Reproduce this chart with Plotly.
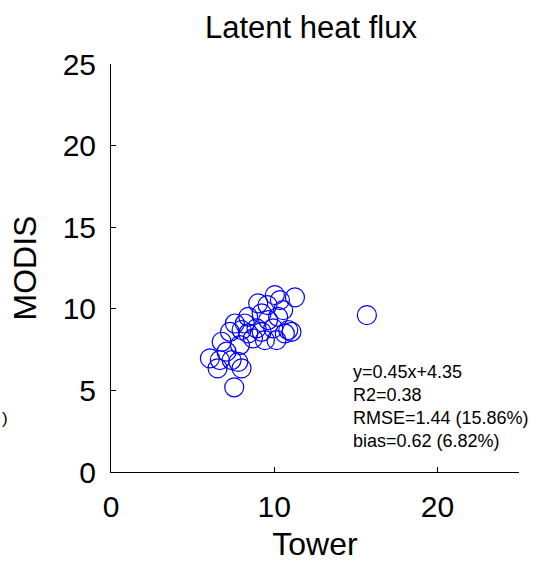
import plotly.graph_objects as go

# ---- data ----
tower = [6.06, 6.67, 6.53, 8.00, 7.29, 6.78, 7.08, 7.90, 8.20, 8.70, 9.43, 10.65,
         10.86, 10.14, 9.63, 9.23, 10.24, 10.55, 9.02, 7.59, 8.41, 8.00, 8.92, 9.23,
         7.39, 7.80, 8.41, 9.94, 11.06, 7.55, 11.27, 10.04, 10.35, 9.59, 15.68]
modis = [6.96, 6.86, 6.35, 6.35, 8.59, 7.98, 7.37, 7.78, 9.10, 8.19, 8.08, 8.49,
         8.70, 8.08, 9.31, 9.72, 9.51, 9.92, 10.33, 9.10, 9.51, 8.70, 8.80, 8.59,
         6.86, 6.75, 8.49, 8.80, 8.59, 5.19, 10.70, 10.84, 10.53, 10.23, 9.61]

x_ticks = [0, 10, 20]
y_ticks = [0, 5, 10, 15, 20, 25]
stats_lines = ["y=0.45x+4.35", "R2=0.38", "RMSE=1.44 (15.86%)", "bias=0.62 (6.82%)"]
stats_y = [6.13, 4.72, 3.31, 1.90]

FONT = "Liberation Sans, Arial, Helvetica, sans-serif"

fig = go.Figure(
    go.Scatter(
        x=tower, y=modis, mode="markers",
        marker=dict(symbol="circle-open", size=19, color="#0000FF",
                    line=dict(width=1.2, color="#0000FF")),
        showlegend=False,
    )
)

axis_common = dict(
    showgrid=False, zeroline=False, showline=True, linecolor="black", linewidth=1,
    mirror=False, ticks="inside", ticklen=5, tickcolor="black", tickwidth=1,
    tickfont=dict(family=FONT, size=30, color="black"), automargin=False,
)

fig.update_xaxes(range=[0, 25], tickvals=x_ticks, ticklabelstandoff=8,
                 title=dict(text="Tower", font=dict(family=FONT, size=32, color="black"),
                            standoff=11),
                 **axis_common)
fig.update_yaxes(range=[0, 25], tickvals=y_ticks, ticklabelstandoff=8,
                 title=dict(text="MODIS", font=dict(family=FONT, size=32, color="black"),
                            standoff=16),
                 **axis_common)

annotations = []
for txt, yy in zip(stats_lines, stats_y):
    annotations.append(dict(x=14.7, y=yy, xref="x", yref="y", text=txt, showarrow=False,
                            xanchor="left", yanchor="middle",
                            font=dict(family=FONT, size=18, color="black")))
# fragment of neighbouring panel's text at the far left edge
annotations.append(dict(x=-111 / 408, y=(472 - 418) / 408, xref="paper", yref="paper",
                        text=")", showarrow=False, xanchor="left", yanchor="middle",
                        font=dict(family=FONT, size=17, color="black")))

fig.update_layout(
    width=547, height=562,
    margin=dict(l=111, r=28, t=64, b=90),
    paper_bgcolor="white", plot_bgcolor="white",
    title=dict(text="Latent heat flux", x=(111 + 200) / 547, xanchor="center",
               y=1 - 27 / 562, yanchor="middle",
               font=dict(family=FONT, size=31, color="black")),
    annotations=annotations,
)

fig.write_html("out.html", config={"displayModeBar": False},
               post_script="document.body.style.margin='0';document.body.style.overflow='hidden';")
